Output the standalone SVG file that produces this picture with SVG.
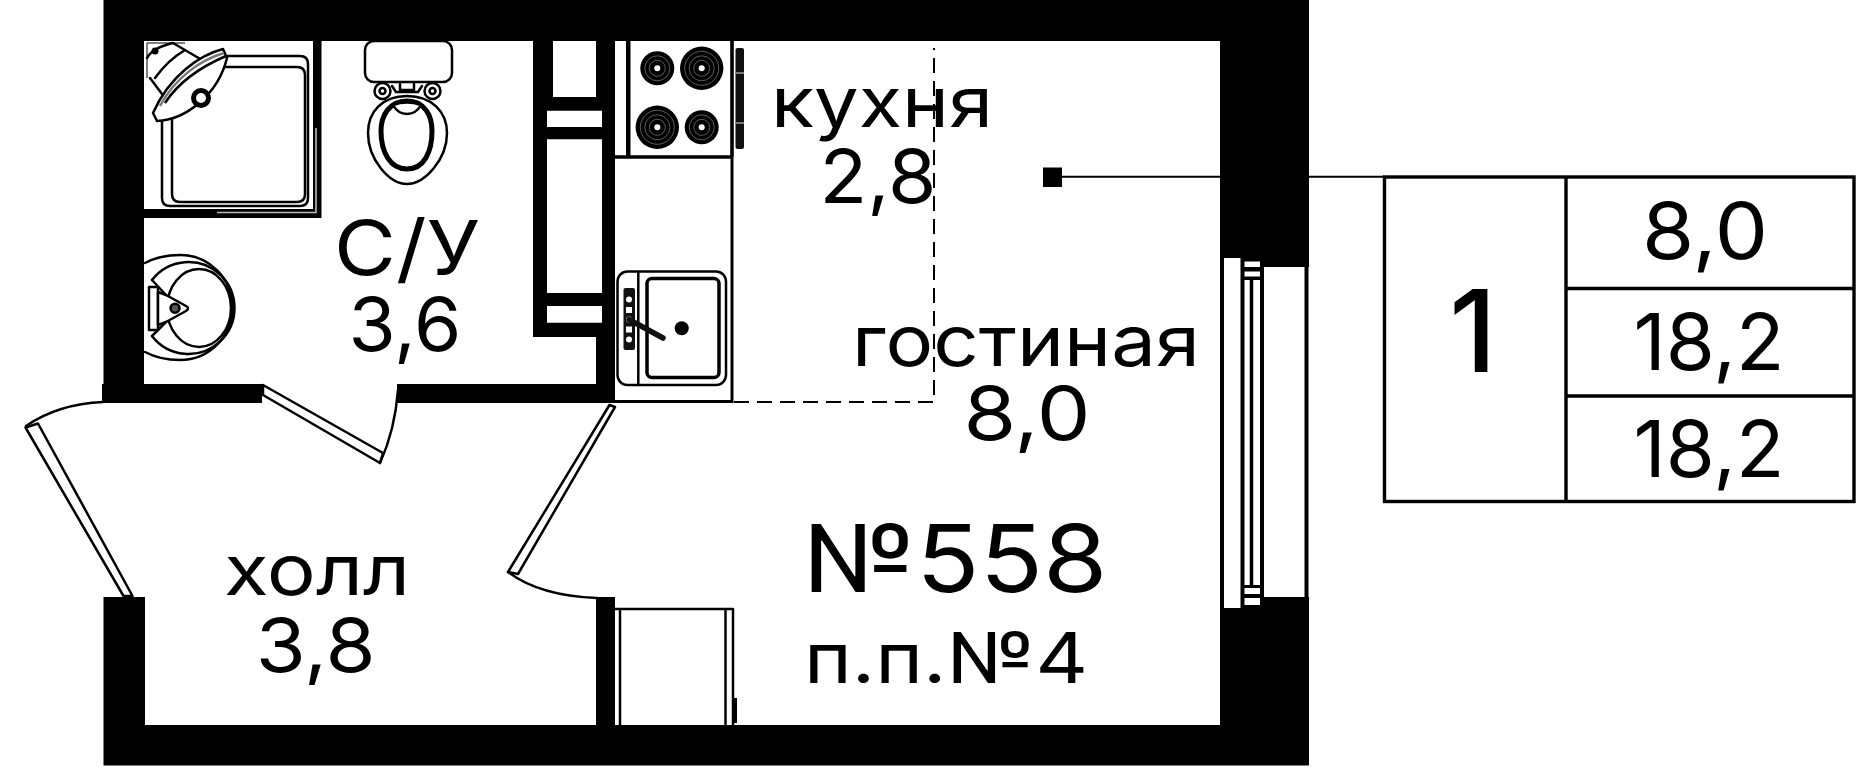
<svg xmlns="http://www.w3.org/2000/svg" width="1868" height="768" viewBox="0 0 1868 768">
<style>
text{font-family:"Inter","Noto Sans","Liberation Sans",sans-serif;font-weight:400;fill:#000;text-anchor:middle}
.w{fill:#000}
.l{fill:none;stroke:#000;stroke-width:2.5;stroke-linejoin:round;stroke-linecap:round}
.lw{fill:#fff;stroke:#000;stroke-width:2.5;stroke-linejoin:round}
.th{fill:none;stroke:#000;stroke-width:3.6}
.ring{fill:none;stroke:#666;stroke-width:.9}
.dash{fill:none;stroke:#000;stroke-width:2;stroke-dasharray:15 8}
.tb{fill:none;stroke:#000;stroke-width:3.4}
</style>
<rect width="1868" height="768" fill="#fff"/>
<g id="walls">
<path class="w" d="M103.500,0H1309V267H1261V258H1220V41H144V384H262V403H102V384H103.500Z"/>
<path class="w" d="M103.500,597H145V725H596V597H615V725H1220V608H1261V597H1309V765.500H103.500Z"/>
<path class="w" d="M144,209H313V41H321.500V218H144Z"/>
<path class="w" fill-rule="evenodd" d="M533,41H615V403H397V384H596V337H533Z M553,41V97H596V41Z M547,110.700V127H602V110.700Z M547,139.300V293H602V139.300Z M547,306V322.700H602V306Z"/>
</g>
<g id="shower">
<path fill="none" stroke="#bbb" stroke-width="1.600" d="M217,212.500H316V128"/>
<path class="l" d="M162,118V198Q162,206 170,206H300Q308,206 308,198V64Q308,56 300,56H226"/>
<path class="l" d="M172,118V194Q172,202 180,202H297Q305,202 305,194V75Q305,67 297,67H222"/>
<path fill="none" stroke="#555" stroke-width="1.500" d="M147,43H185M147,43V78"/>
<path class="l" d="M150,78L165,98M173,43L202,60M147,58Q152,48 173,43M155,78Q168,60 185,50"/>
<circle cx="155" cy="51" r="3.500" fill="#000"/>
<path class="lw" d="M153,113L157,121C185,120 218,95 227,58L223,49C200,55 170,75 153,113Z"/>
<path fill="none" stroke="#000" stroke-width="2.500" d="M165,103C180,80 205,65 226,56"/>
<path fill="none" stroke="#777" stroke-width="2.500" d="M160,106C175,78 200,60 224,53"/>
<circle cx="201" cy="98" r="7.500" fill="#fff" stroke="#000" stroke-width="5"/>
</g>
<g id="toilet">
<rect class="lw" x="365" y="41" width="87" height="41" rx="9"/>
<path class="l" d="M392,86L396,92H418L422,86M400,84V90H414V84"/>
<circle cx="382.500" cy="91" r="8" class="lw"/>
<circle cx="382.500" cy="91" r="3" class="lw"/>
<circle cx="432.500" cy="91" r="8" class="lw"/>
<circle cx="432.500" cy="91" r="3" class="lw"/>
<path class="lw" d="M407,96C432,96 447,112 447,133C447,159 425,184 407,184C389,184 368,159 368,133C368,112 382,96 407,96Z"/>
<path fill="none" stroke="#000" stroke-width="5" d="M407,101C425,101 432,116 432,131C432,152 424,169 407,169C390,169 381,152 381,131C381,116 389,101 407,101Z"/>
<path class="lw" d="M393,105Q407,100 421,105Q416,114 407,114Q398,114 393,105Z"/>
<path stroke="#fff" stroke-width="1.500" d="M402,165h10"/>
</g>
<g id="washbasin">
<path class="l" d="M145,263Q160,255 180,255A52.500,52.500 0 0 1 180,360Q160,360 145,352"/>
<path class="l" d="M152,280A46,46 0 1 1 152,336"/>
<ellipse class="l" cx="199" cy="308" rx="32" ry="39"/>
<path class="lw" d="M149,287H158V330H149Z"/>
<path class="lw" d="M158,292L166,295L186,306Q190,308 186,311L166,322L158,325Z"/>
<path class="l" d="M152,280L166,295M152,336L166,322"/>
<circle cx="175" cy="308.300" r="4.500" fill="#555" stroke="#000" stroke-width="2.500"/>
</g>
<g id="stove">
<path class="w" d="M626,41h4.500v116H626z"/>
<path class="th" d="M614,157H732M732,41V157"/>
<rect x="735.500" y="48" width="8.500" height="101" rx="2" fill="#111"/>
<path stroke="#777" stroke-width="2" d="M735,73h9M735,123h9"/>
<g id="burner-1"><circle cx="657.300" cy="68.300" r="17"/><circle class="ring" cx="657.300" cy="68.300" r="8"/><circle class="ring" cx="657.300" cy="68.300" r="12.500"/><circle cx="657.300" cy="68.300" r="3" fill="#fff"/></g>
<g id="burner-2"><circle cx="701.700" cy="68.300" r="21.700"/><circle class="ring" cx="701.700" cy="68.300" r="8"/><circle class="ring" cx="701.700" cy="68.300" r="12.500"/><circle class="ring" cx="701.700" cy="68.300" r="17"/><circle cx="701.700" cy="68.300" r="3" fill="#fff"/></g>
<g id="burner-3"><circle cx="657.300" cy="127.300" r="21.700"/><circle class="ring" cx="657.300" cy="127.300" r="8"/><circle class="ring" cx="657.300" cy="127.300" r="12.500"/><circle class="ring" cx="657.300" cy="127.300" r="17"/><circle cx="657.300" cy="127.300" r="3" fill="#fff"/></g>
<g id="burner-4"><circle cx="701.700" cy="127.300" r="17"/><circle class="ring" cx="701.700" cy="127.300" r="8"/><circle class="ring" cx="701.700" cy="127.300" r="12.500"/><circle cx="701.700" cy="127.300" r="3" fill="#fff"/></g>
</g>
<g id="counter">
<path class="th" d="M732,157V401.500H614" style="stroke-width:3"/>
<path class="dash" d="M734,402H934V48"/>
</g>
<g id="kitchen-sink">
<rect class="l" x="617.500" y="271.500" width="108.500" height="113.500" rx="10"/>
<path class="l" d="M638.300,272V385"/>
<rect x="647" y="278.500" width="72" height="99" rx="5" fill="none" stroke="#000" stroke-width="3.500"/>
<rect x="623.500" y="288" width="11.500" height="62" rx="2" fill="#111"/>
<g fill="#fff"><circle cx="629" cy="299.500" r="3"/><rect x="626" y="307" width="6" height="6"/><circle cx="629" cy="319.500" r="3"/><rect x="626" y="326.500" width="6" height="6"/><circle cx="629" cy="339.500" r="3"/></g>
<path stroke="#111" stroke-width="5.500" stroke-linecap="round" d="M629,319.500L663,338"/>
<circle cx="681.700" cy="328.300" r="7"/>
</g>
<g id="doors">
<path class="lw" d="M25.500,427.500L38,423.500L132.500,596H123.500Z"/>
<path class="l" d="M103,402Q58,404 26,426"/>
<path class="lw" d="M263,385L383,453L380,463L263,395Z"/>
<path class="l" d="M380,463Q395,430 398,390"/>
<path class="lw" d="M609.500,405L615,407L518,574L508,572Z"/>
<path class="l" d="M508,572Q540,596 597,598"/>
</g>
<g id="wardrobe">
<path class="l" d="M615,609H733V725M620,609V725M725.500,609V725"/>
<rect x="733" y="698" width="4" height="25" fill="#000"/>
</g>
<g id="window">
<path fill="none" stroke="#000" stroke-width="4" d="M1222,258V608M1242.500,258V608M1262,258V608"/>
<path fill="none" stroke="#000" stroke-width="3.500" d="M1251.500,280V586"/>
<path fill="none" stroke="#000" stroke-width="4" d="M1306.500,266V597"/>
<path class="w" d="M1241,258h21v3.500h-21z M1241,267h21v4.500h-21z M1241,276.500h21v3.500h-21z M1241,585h21v3h-21z M1241,594h21v4h-21z M1241,605h21v3h-21z"/>
</g>
<g id="connectors">
<rect x="1043" y="167.500" width="19" height="19.500"/>
<path stroke="#000" stroke-width="2" d="M1062,176.800H1384"/>
</g>
<g id="table">
<rect class="tb" x="1384.500" y="177" width="469.500" height="324.500"/>
<path class="tb" d="M1566,177V501.500M1566,288.500H1854M1566,396H1854"/>
<text x="1473" y="372" font-size="114" style="font-weight:500">1</text>
<text x="1705" y="258.500" font-size="78" textLength="126" lengthAdjust="spacingAndGlyphs">8,0</text>
<text x="1709" y="370" font-size="78" textLength="151" lengthAdjust="spacingAndGlyphs">18,2</text>
<text x="1709" y="477" font-size="78" textLength="151" lengthAdjust="spacingAndGlyphs">18,2</text>
</g>
<g id="labels">
<text x="407" y="275" font-size="76" textLength="146" lengthAdjust="spacingAndGlyphs">С/У</text>
<text x="405" y="350.500" font-size="74" textLength="113" lengthAdjust="spacingAndGlyphs">3,6</text>
<text x="882" y="127" font-size="70" textLength="222" lengthAdjust="spacingAndGlyphs">кухня</text>
<text x="878" y="203" font-size="74" textLength="117" lengthAdjust="spacingAndGlyphs">2,8</text>
<text x="1026" y="366" font-size="70" textLength="348" lengthAdjust="spacingAndGlyphs">гостиная</text>
<text x="1027" y="440" font-size="74" textLength="127" lengthAdjust="spacingAndGlyphs">8,0</text>
<text x="317" y="595" font-size="70" textLength="186" lengthAdjust="spacingAndGlyphs">холл</text>
<text x="315.700" y="671.500" font-size="74" textLength="120" lengthAdjust="spacingAndGlyphs">3,8</text>
<text x="955" y="592" font-size="94" textLength="305" lengthAdjust="spacingAndGlyphs">№558</text>
<text x="946" y="682.500" font-size="70" textLength="284" lengthAdjust="spacingAndGlyphs">п.п.№4</text>
</g>
</svg>
